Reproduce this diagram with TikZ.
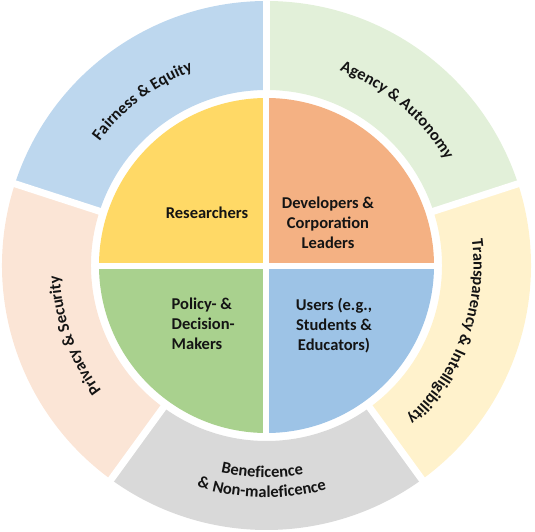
\documentclass[tikz,border=0pt]{standalone}
\usepackage{fontspec}
\setmainfont{Carlito}
\usetikzlibrary{decorations.text}
\definecolor{cFair}{HTML}{BDD7EE}
\definecolor{cAgency}{HTML}{E2F0D9}
\definecolor{cTrans}{HTML}{FFF2CC}
\definecolor{cBenef}{HTML}{D9D9D9}
\definecolor{cPriv}{HTML}{FBE5D6}
\definecolor{cRes}{HTML}{FFD966}
\definecolor{cDev}{HTML}{F4B183}
\definecolor{cPol}{HTML}{A9D18E}
\definecolor{cUser}{HTML}{9DC3E6}
\definecolor{txt}{HTML}{141414}
\newcommand\ringfont{\fontsize{16.5}{20}\selectfont\bfseries}
\newcommand\ringseg[3]{%
  \fill[#3] (#1:\Ri) -- (#1:\Ro) arc[start angle=#1, end angle=#2, radius=\Ro]
    -- (#2:\Ri) arc[start angle=#2, end angle=#1, radius=\Ri] -- cycle;}
\newcommand\arctext[4]{%
  \path[decorate, decoration={text along path, text align=center, text color=txt,
    text={|\ringfont|#4}}] (#1:#3) arc[start angle=#1, end angle=#2, radius=#3];}
\begin{document}
\begin{tikzpicture}[x=1pt,y=1pt,
  lbl/.style={font=\fontsize{16.5}{20}\selectfont\bfseries, text=txt, inner sep=0pt},
  ringgap/.style={white, line width=7pt},
  quadgap/.style={white, line width=5.5pt}]
\useasboundingbox (-266.5,-266.5) rectangle (268.5,265.5);
\def\Ro{264.5}\def\Ri{175.5}\def\Rq{167.5}
% outer ring
\ringseg{90}{162}{cFair}
\ringseg{18}{90}{cAgency}
\ringseg{-54}{18}{cTrans}
\ringseg{234}{306}{cBenef}
\ringseg{162}{234}{cPriv}
\foreach \a in {18,90,162,234,306} \draw[ringgap] (\a:168) -- (\a:272);
% inner quadrants
\fill[cRes] (0,0) -- (180:\Rq) arc[start angle=180, end angle=90, radius=\Rq] -- cycle;
\fill[cDev] (0,0) -- (90:\Rq) arc[start angle=90, end angle=0, radius=\Rq] -- cycle;
\fill[cUser] (0,0) -- (0:\Rq) arc[start angle=0, end angle=-90, radius=\Rq] -- cycle;
\fill[cPol] (0,0) -- (-90:\Rq) arc[start angle=-90, end angle=-180, radius=\Rq] -- cycle;
\draw[quadgap] (-170,-0.5) -- (170,-0.5);
\draw[quadgap] (-0.5,-170) -- (-0.5,170);
% quadrant labels
\node[lbl] (res) at (-59.5,52.5) {Researchers};
\node[lbl, align=center] (dev) at (61.5,43) {Developers \&\\Corporation\\Leaders};
\node[lbl, align=left, anchor=west] (pol) at (-95,-58) {Policy- \&\\Decision-\\Makers};
\node[lbl, align=center] (usr) at (67.5,-60) {Users (e.g.,\\Students \&\\Educators)};
% ring labels
\arctext{167}{87}{208}{Fairness {\&} Equity}
\arctext{90}{10}{208}{Agency {\&} Autonomy}
\arctext{25}{-65}{207}{Transparency {\&} Intelligibility}
\arctext{240}{160}{207}{Privacy {\&} Security}
\arctext{228.8}{308.8}{212}{Beneficence}
\arctext{228.8}{308.8}{232}{{\&} Non-maleficence}
\end{tikzpicture}
\end{document}
